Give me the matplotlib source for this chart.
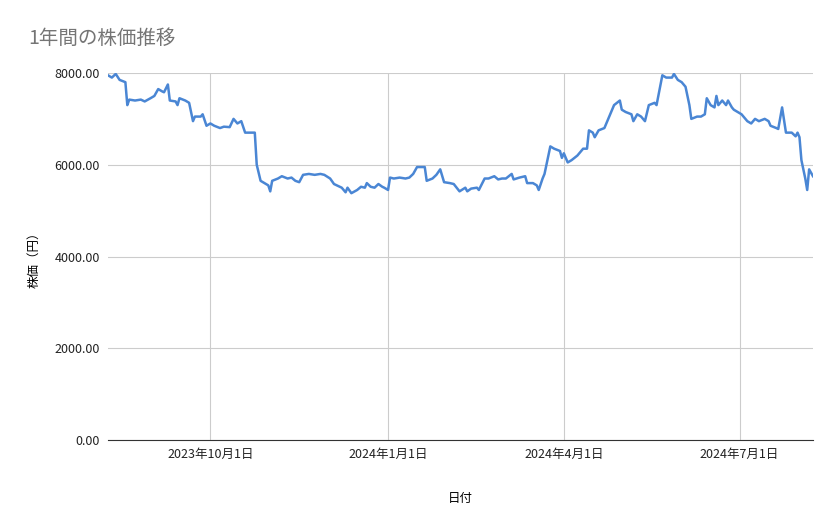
import matplotlib
matplotlib.use("Agg")
import matplotlib.pyplot as plt
import matplotlib.dates as mdates
import numpy as np
import datetime as dt

plt.rcParams['font.family'] = ['Noto Sans CJK JP', 'DejaVu Sans']

start = dt.date(2023, 8, 9)
day_offsets = [0,2,4,6,9,10,11,14,17,19,22,24,26,28,29,31,32,35,36,37,40,42,44,45,48,49,51,53,55,58,60,63,65,67,69,71,73,76,77,79,81,83,84,85,88,90,93,95,97,99,101,104,107,110,112,115,117,120,121,123,124,126,129,131,133,134,136,138,140,142,143,145,146,148,151,154,156,158,160,164,165,168,170,172,174,177,179,182,185,186,188,191,192,195,197,200,202,204,206,209,210,213,216,217,220,222,223,225,226,227,229,231,234,235,236,238,240,243,246,248,249,251,252,254,257,260,262,265,266,268,271,272,274,276,278,280,283,284,287,289,292,293,295,297,299,300,301,302,305,307,309,310,312,314,315,316,318,320,321,323,324,326,328,331,333,335,337,340,342,343,346,347,349,351,354,356,357,358,359,361,362,363,365]
prices = [7950,7900,7980,7850,7800,7300,7420,7400,7420,7380,7450,7500,7650,7600,7580,7750,7400,7380,7300,7450,7400,7350,6950,7050,7050,7100,6850,6900,6850,6800,6830,6820,7000,6900,6950,6700,6700,6700,6000,5650,5600,5550,5420,5650,5700,5750,5700,5720,5650,5620,5780,5800,5780,5800,5780,5700,5580,5520,5500,5400,5500,5380,5450,5520,5500,5600,5520,5500,5580,5520,5500,5450,5720,5700,5720,5700,5720,5800,5950,5950,5650,5700,5780,5900,5620,5600,5580,5420,5500,5420,5480,5500,5450,5700,5700,5750,5680,5700,5700,5800,5680,5720,5750,5600,5600,5550,5450,5700,5800,6000,6400,6350,6300,6150,6250,6050,6100,6200,6350,6350,6750,6700,6600,6750,6800,7100,7300,7400,7200,7150,7100,6950,7100,7050,6950,7300,7350,7300,7950,7900,7900,7980,7850,7800,7700,7500,7300,7000,7050,7050,7100,7450,7300,7250,7500,7300,7400,7300,7400,7250,7200,7150,7100,6950,6900,7000,6950,7000,6950,6850,6800,6780,7250,6700,6700,6620,6700,6600,6100,5700,5450,5900,5750]
dates = [start + dt.timedelta(days=d) for d in day_offsets]

tick_dates = [dt.date(2023,10,1), dt.date(2024,1,1), dt.date(2024,4,1), dt.date(2024,7,1)]
tick_labels = ['2023年10月1日', '2024年1月1日', '2024年4月1日', '2024年7月1日']
y_ticks = [0, 2000, 4000, 6000, 8000]

fig = plt.figure(figsize=(8.39, 5.19), dpi=100)
ax = fig.add_axes([108/839, 1-440/519, (813-108)/839, (440-73)/519])
ax.plot(dates, prices, color='#4a86d4', lw=1.8, zorder=3)
ax.set_xlim(start, start + dt.timedelta(days=365))
ax.set_ylim(0, 8000)
ax.set_xticks(tick_dates)
ax.set_xticklabels(tick_labels, fontsize=9, color='#222222')
ax.set_yticks(y_ticks)
ax.set_yticklabels([f'{v:.2f}' for v in y_ticks], fontsize=9, color='#222222')
ax.grid(True, color='#cccccc', lw=0.8)
ax.tick_params(length=0, pad=6)
for s in ['top', 'right', 'left']:
    ax.spines[s].set_visible(False)
ax.spines['bottom'].set_color('#333333')
ax.set_xlabel('日付', fontsize=9, labelpad=22)
ax.set_ylabel('株価（円）', fontsize=9, labelpad=10)
fig.text(28/839, 1-38/519, '1年間の株価推移', fontsize=14, color='#757575', va='center')
fig.savefig('out.png', dpi=100)
